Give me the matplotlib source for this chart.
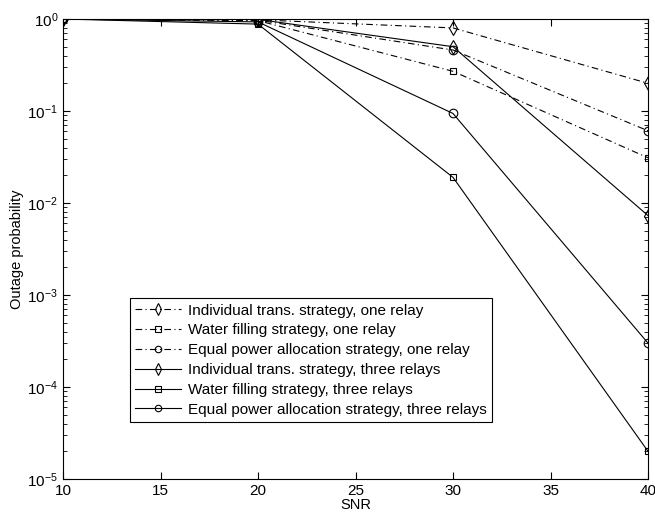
import matplotlib
matplotlib.use("Agg")
import matplotlib.pyplot as plt
import numpy as np

plt.rcParams['font.family'] = ['Liberation Sans', 'DejaVu Sans']
plt.rcParams['mathtext.fontset'] = 'custom'
plt.rcParams['mathtext.rm'] = 'Liberation Sans'
plt.rcParams['mathtext.it'] = 'Liberation Sans'

snr = [10, 20, 30, 40]
indiv_one = [1.0, 0.98, 0.80, 0.20]
water_one = [1.0, 0.96, 0.27, 0.031]
equal_one = [1.0, 0.97, 0.46, 0.061]
indiv_three = [1.0, 0.99, 0.50, 0.0073]
water_three = [1.0, 0.88, 0.019, 2.0e-5]
equal_three = [1.0, 0.93, 0.094, 3.0e-4]

labels = [
    "Individual trans. strategy, one relay",
    "Water filling strategy, one relay",
    "Equal power allocation strategy, one relay",
    "Individual trans. strategy, three relays",
    "Water filling strategy, three relays",
    "Equal power allocation strategy, three relays",
]

fig = plt.figure(figsize=(6.55, 5.17), dpi=100)
ax = fig.add_axes([63/655, 38/517, 585/655, 460/517])

series = [indiv_one, water_one, equal_one, indiv_three, water_three, equal_three]
markers = ['d', 's', 'o', 'd', 's', 'o']
msizes = [7.5, 5, 6.2, 7.5, 5, 6.2]
styles = [(0, (6, 3, 1, 3))] * 3 + ['-'] * 3
for y, m, ms, ls, lab in zip(series, markers, msizes, styles, labels):
    ax.plot(snr, y, color='black', linestyle=ls, linewidth=0.8, marker=m,
            markersize=ms, markerfacecolor='none',
            markeredgecolor='black', markeredgewidth=0.8, label=lab)

ax.set_yscale('log')
ax.set_xlim(10, 40)
ax.set_ylim(1e-5, 1)
ax.set_xticks([10, 15, 20, 25, 30, 35, 40])
ax.set_yticks([1e-5, 1e-4, 1e-3, 1e-2, 1e-1, 1])
ax.set_yticklabels([r'$10^{-5}$', r'$10^{-4}$', r'$10^{-3}$', r'$10^{-2}$', r'$10^{-1}$', r'$10^{0}$'])
ax.tick_params(which='both', direction='in', top=True, right=True, labelsize=11)
ax.tick_params(which='major', length=5)
ax.tick_params(which='minor', length=3)
ax.set_xlabel('SNR', fontsize=10.5, labelpad=0)
ax.set_ylabel('Outage probability', fontsize=10.5, labelpad=2)
for s in ax.spines.values():
    s.set_linewidth(0.8)

leg = ax.legend(loc='lower left', bbox_to_anchor=(67/585, 57/460), fontsize=11,
                frameon=True, fancybox=False, edgecolor='black', framealpha=1,
                handlelength=3.0, handletextpad=0.45, borderpad=0.35, labelspacing=0.38,
                borderaxespad=0, markerscale=0.75)
leg.get_frame().set_linewidth(0.8)

fig.savefig('out.png', dpi=100)
